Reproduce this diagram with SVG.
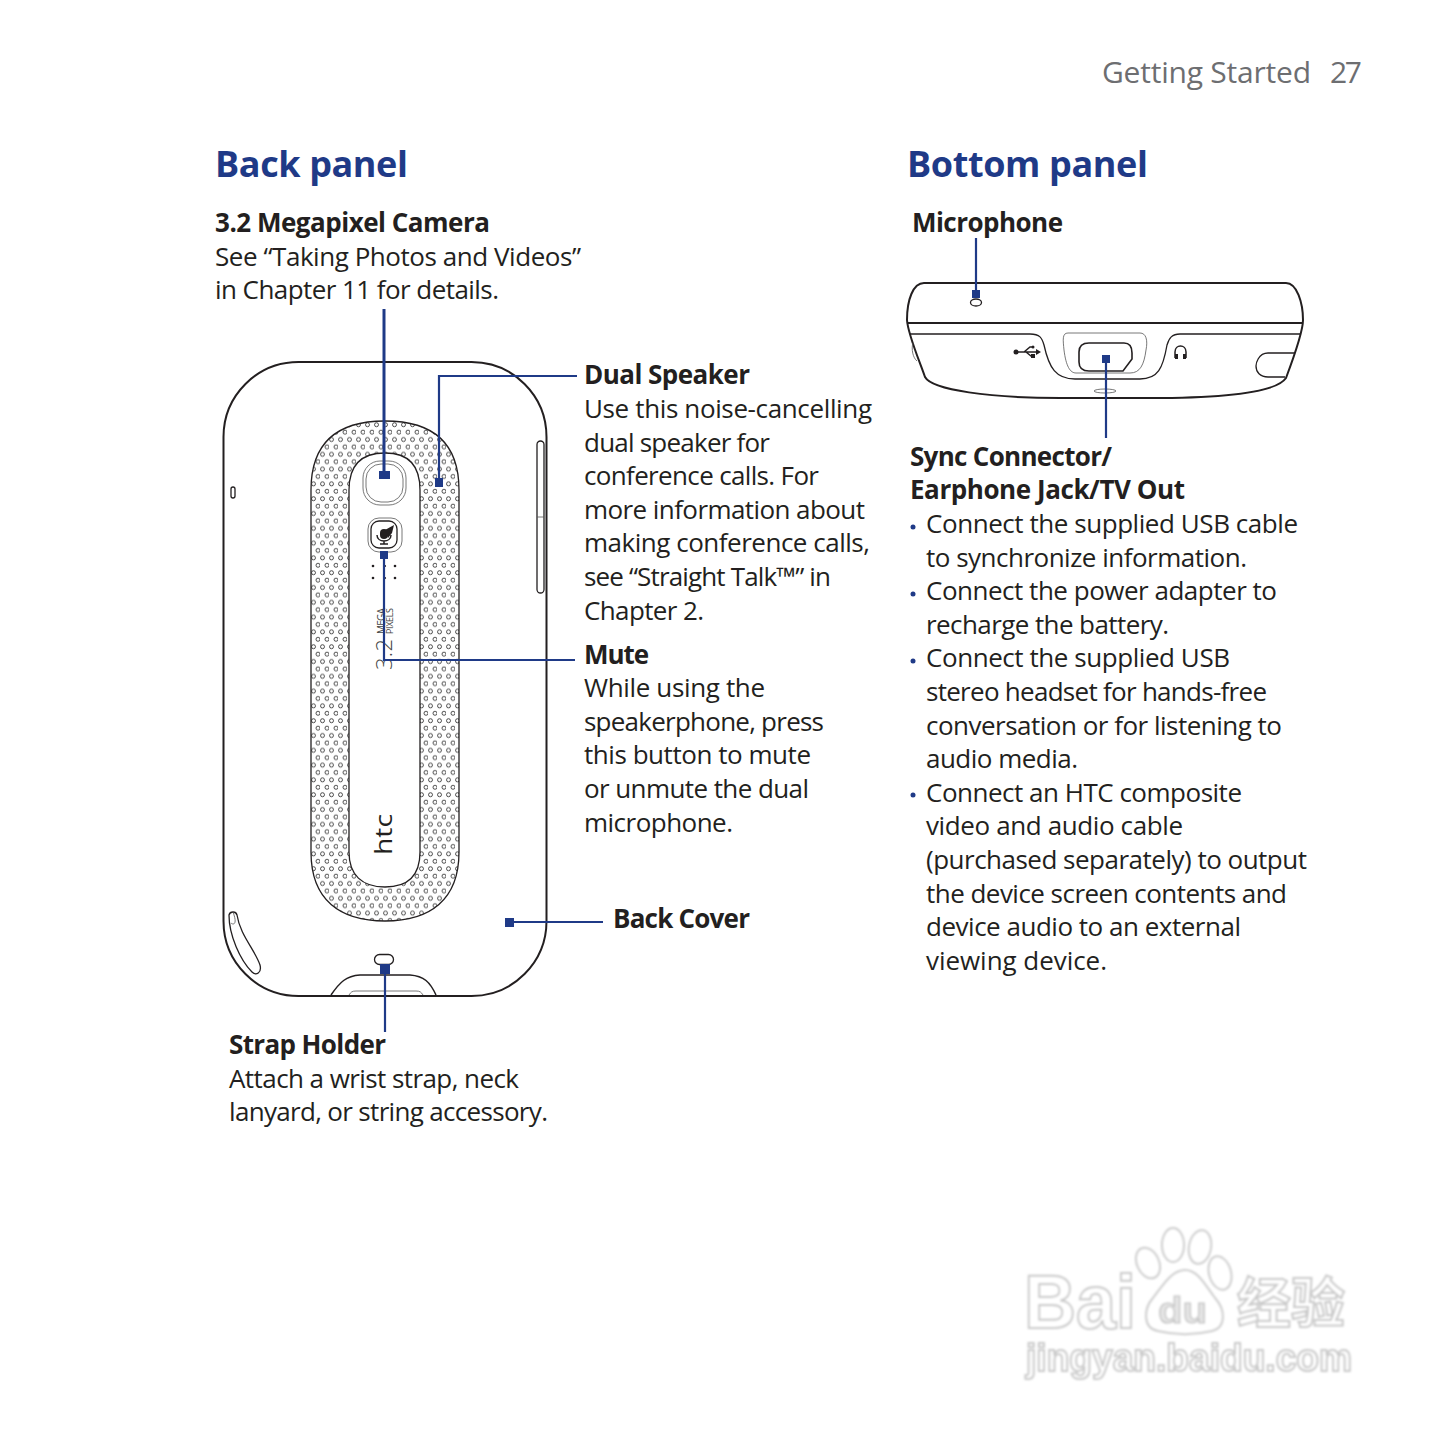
<svg xmlns="http://www.w3.org/2000/svg" width="1440" height="1440" viewBox="0 0 1440 1440">
<style>
text{font-family:"Open Sans","Noto Sans",sans-serif;fill:#231f20}
.b{font-size:26px;font-weight:700}
.t{font-size:26px}
.h{font-size:36px;font-weight:700;fill:#1f3a87}
.o{fill:none;stroke:#231f20;stroke-width:2}
.m{fill:none;stroke:#231f20;stroke-width:1.3}
.f{fill:none;stroke:#555;stroke-width:.8}
.c{fill:none;stroke:#1f3a87;stroke-width:2.200}
.s{fill:#1f3a87;stroke:none}
.w{fill:#fff;stroke:#c9c9c9;stroke-width:2;font-family:"Liberation Sans",sans-serif;font-weight:700}
.p{fill:#fff;stroke:#ccc;stroke-width:2}
</style>
<defs>
<pattern id="dots" x="311" y="421" width="9" height="14.800" patternUnits="userSpaceOnUse">
<circle cx="2.500" cy="3.700" r="2" fill="none" stroke="#222" stroke-width=".8"/>
<circle cx="7" cy="11.100" r="2" fill="none" stroke="#222" stroke-width=".8"/>
</pattern>
<filter id="blur"><feGaussianBlur stdDeviation="1"/></filter>
</defs>
<rect width="1440" height="1440" fill="#fff"/>

<g id="header">
<text x="1102" y="83" textLength="209" style="font-size:30px;fill:#6d6e71">Getting Started</text>
<text x="1330" y="83" textLength="32" style="font-size:30px;fill:#6d6e71">27</text>
<text class="h" x="215" y="177" textLength="193">Back panel</text>
<text class="h" x="907" y="177" textLength="241">Bottom panel</text>
</g>

<g id="back-phone">
<rect class="o" x="223.500" y="362" width="323" height="634" rx="75" ry="75"/>
<path fill="url(#dots)" fill-rule="evenodd" d="M311 490C311 440 340 421 385 421C430 421 459 440 459 490V852C459 900 430 921 385 921C340 921 311 900 311 852ZM349 490V852C349 875 362 887 385 887C408 887 420 875 420 852V490C420 465 408 453 385 453C362 453 349 465 349 490Z"/>
<path class="m" d="M311 490C311 440 340 421 385 421C430 421 459 440 459 490V852C459 900 430 921 385 921C340 921 311 900 311 852Z"/>
<path class="m" d="M349 490V852C349 875 362 887 385 887C408 887 420 875 420 852V490C420 465 408 453 385 453C362 453 349 465 349 490Z"/>
<rect class="f" x="363" y="461" width="43" height="44" rx="17"/>
<rect class="f" x="366" y="464" width="37" height="38" rx="15"/>
<rect class="f" x="368" y="518" width="34" height="34" rx="11"/>
<rect class="m" x="371" y="521" width="26" height="27" rx="8"/>
<rect x="380" y="529" width="8" height="10" rx="4" fill="#231f20"/>
<path d="M377 535C377 543 391 543 391 535M384 541V544M380 544H388" fill="none" stroke="#231f20" stroke-width="1.500"/>
<path d="M385 530L394 525L392 533L388 538Z" fill="#231f20"/>
<g fill="#231f20"><circle cx="373" cy="566" r="1.300"/><circle cx="385" cy="566" r="1.100"/><circle cx="395" cy="566" r="1.300"/><circle cx="373" cy="578" r="1.300"/><circle cx="385" cy="578" r="1.100"/><circle cx="395" cy="578" r="1.300"/></g>
<text transform="translate(385,634) rotate(-90)" style="font-size:10px;fill:#444" textLength="26">MEGA</text>
<text transform="translate(393,634) rotate(-90)" style="font-size:9px;fill:#444" textLength="26">PIXELS</text>
<text transform="translate(392,670) rotate(-90)" style="font-size:22px;font-weight:300;fill:#444" textLength="31">3.2</text>
<text transform="translate(392,855) rotate(-90)" style="font-size:23px;fill:#231f20" textLength="41" lengthAdjust="spacingAndGlyphs">htc</text>
<rect class="m" x="537" y="441" width="7" height="152" rx="3.500"/>
<path class="f" d="M537 517h7"/>
<rect class="m" x="231" y="487" width="4" height="11" rx="2"/>
<path class="m" d="M229 915C230 911 236 911 237 915C240 935 255 950 260 965C262 973 256 976 252 972C240 960 229 935 229 915Z"/>
<path class="f" d="M233 912C238 925 233 925 231 923"/>
<rect class="m" x="374.500" y="954.500" width="19" height="10" rx="5"/>
<path class="o" style="stroke-width:1.500" d="M331 995C340 982 346 976 360 975H410C424 976 430 982 436 995"/>
<path class="f" d="M349 995C351 992 352 991 356 991H416C420 991 421 992 423 995"/>
</g>

<g id="bottom-phone">
<path class="o" d="M924 283H1286C1297 283 1303 303 1303 320C1303 332 1292 362 1286 378C1278 390 1240 398 1150 398H1060C990 398 932 390 925 377C920 362 908 335 907 320C907 300 913 283 924 283Z"/>
<path class="o" d="M907 323H1303"/>
<path class="m" d="M910 334H1030C1040 334 1042 338 1044 345C1049 368 1056 379 1075 379H1140C1158 379 1163 368 1167 345C1169 338 1172 334 1180 334H1300"/>
<path class="f" d="M1068 333H1140C1146 333 1148 340 1146 350C1144 365 1140 373 1130 373H1076C1070 373 1066 366 1064 350C1063 340 1062 333 1068 333Z"/>
<path class="o" style="stroke-width:1.600" d="M1089 343H1124C1130 343 1132 348 1132 353V359L1123 371H1089C1082 371 1079 367 1079 362V352C1079 346 1083 343 1089 343Z"/>
<ellipse class="m" cx="976" cy="302.500" rx="5.500" ry="3.500"/>
<ellipse class="f" cx="1105" cy="391" rx="11" ry="2"/>
<path class="m" d="M1017 352H1037M1024 352L1030 347H1033M1026 352L1031 356H1034" style="stroke-width:1.500"/>
<circle cx="1016" cy="352" r="2.500" fill="#231f20"/><path d="M1041 352l-5-3v6z" fill="#231f20"/><rect x="1031" y="354" width="4" height="4" fill="#231f20"/><circle cx="1033" cy="347" r="1.500" fill="#231f20"/>
<path class="o" d="M1175 358V352C1175 344 1186 344 1186 352V358" style="stroke-width:1.500"/>
<rect x="1175" y="354" width="3" height="5" fill="#231f20"/><rect x="1183" y="354" width="3" height="5" fill="#231f20"/>
<path class="m" d="M1295 353H1268C1258 353 1256 364 1256 366C1256 372 1260 377 1268 377H1285"/>
<path class="f" d="M913 343C911 349 913 358 917 361"/>
</g>

<g id="connectors">
<path class="c" style="stroke-width:3" d="M384 309V475"/>
<rect class="s" x="379" y="471" width="11" height="8"/>
<path class="c" d="M577 376H439V482"/>
<rect class="s" x="435" y="478" width="8" height="9"/>
<path class="c" d="M575 660H384V554"/>
<rect class="s" x="380" y="551" width="8" height="8"/>
<path class="c" d="M603 922H510"/>
<rect class="s" x="505" y="918" width="9" height="9"/>
<path class="c" d="M385 1032V968"/>
<rect class="s" x="380" y="964" width="10" height="10"/>
<path class="c" d="M976 238V294"/>
<rect class="s" x="972" y="290" width="8" height="8"/>
<path class="c" d="M1106 438V358"/>
<rect class="s" x="1102" y="355" width="8" height="8"/>
</g>

<g id="back-camera"><text class="b" x="215" y="232" textLength="275">3.2 Megapixel Camera</text>
<text class="t" x="215" y="266" textLength="366">See “Taking Photos and Videos”</text>
<text class="t" x="215" y="299" textLength="284">in Chapter 11 for details.</text></g>
<g id="dual-speaker"><text class="b" x="584" y="384" textLength="166">Dual Speaker</text>
<text class="t" x="584" y="418" textLength="288">Use this noise-cancelling</text>
<text class="t" x="584" y="452" textLength="186">dual speaker for</text>
<text class="t" x="584" y="485" textLength="235">conference calls. For</text>
<text class="t" x="584" y="519" textLength="281">more information about</text>
<text class="t" x="584" y="552" textLength="286">making conference calls,</text>
<text class="t" x="584" y="586" textLength="247">see “Straight Talk™” in</text>
<text class="t" x="584" y="620" textLength="120">Chapter 2.</text></g>
<g id="mute"><text class="b" x="584" y="664" textLength="65">Mute</text>
<text class="t" x="584" y="697" textLength="181">While using the</text>
<text class="t" x="584" y="731" textLength="240">speakerphone, press</text>
<text class="t" x="584" y="764" textLength="227">this button to mute</text>
<text class="t" x="584" y="798" textLength="225">or unmute the dual</text>
<text class="t" x="584" y="832" textLength="149">microphone.</text></g>
<g id="back-cover"><text class="b" x="613" y="928" textLength="137">Back Cover</text></g>
<g id="strap-holder"><text class="b" x="229" y="1054" textLength="157">Strap Holder</text>
<text class="t" x="229" y="1088" textLength="290">Attach a wrist strap, neck</text>
<text class="t" x="229" y="1121" textLength="319">lanyard, or string accessory.</text></g>
<g id="microphone"><text class="b" x="912" y="232" textLength="151">Microphone</text></g>
<g id="sync"><text class="b" x="910" y="466" textLength="202">Sync Connector/</text>
<text class="b" x="910" y="499" textLength="275">Earphone Jack/TV Out</text>
<g class="s"><circle cx="913" cy="527" r="2.500"/><circle cx="913" cy="594" r="2.500"/><circle cx="913" cy="661" r="2.500"/><circle cx="913" cy="795" r="2.500"/></g>
<text class="t" x="926" y="533" textLength="372">Connect the supplied USB cable</text>
<text class="t" x="926" y="567" textLength="321">to synchronize information.</text>
<text class="t" x="926" y="600" textLength="351">Connect the power adapter to</text>
<text class="t" x="926" y="634" textLength="243">recharge the battery.</text>
<text class="t" x="926" y="667" textLength="304">Connect the supplied USB</text>
<text class="t" x="926" y="701" textLength="341">stereo headset for hands-free</text>
<text class="t" x="926" y="735" textLength="356">conversation or for listening to</text>
<text class="t" x="926" y="768" textLength="152">audio media.</text>
<text class="t" x="926" y="802" textLength="316">Connect an HTC composite</text>
<text class="t" x="926" y="835" textLength="257">video and audio cable</text>
<text class="t" x="926" y="869" textLength="381">(purchased separately) to output</text>
<text class="t" x="926" y="903" textLength="361">the device screen contents and</text>
<text class="t" x="926" y="936" textLength="315">device audio to an external</text>
<text class="t" x="926" y="970" textLength="181">viewing device.</text></g>

<g id="watermark" filter="url(#blur)">
<text class="w" x="1024" y="1328" style="font-size:76px" textLength="112" lengthAdjust="spacingAndGlyphs">Bai</text>
<ellipse class="p" cx="1148" cy="1263" rx="11" ry="16" transform="rotate(-25 1148 1263)"/>
<ellipse class="p" cx="1173" cy="1245" rx="11" ry="17"/>
<ellipse class="p" cx="1200" cy="1247" rx="11" ry="17" transform="rotate(10 1200 1247)"/>
<ellipse class="p" cx="1220" cy="1273" rx="11" ry="17" transform="rotate(-15 1220 1273)"/>
<path class="p" d="M1158 1331C1142 1328 1144 1308 1153 1298C1163 1285 1172 1270 1185 1270C1198 1270 1205 1285 1215 1298C1226 1310 1226 1328 1212 1331C1195 1335 1175 1335 1158 1331Z"/>
<text x="1158" y="1323" style="font-size:36px;font-family:'Liberation Sans',sans-serif;font-weight:700;fill:#e4e4e4;stroke:#bbb;stroke-width:1" textLength="49" lengthAdjust="spacingAndGlyphs">du</text>
<text class="w" x="1237" y="1323" style="font-size:54px;font-family:'Noto Sans CJK SC',sans-serif" textLength="108" lengthAdjust="spacingAndGlyphs">经验</text>
<text class="w" x="1026" y="1371" style="font-size:38px" textLength="326" lengthAdjust="spacingAndGlyphs">jingyan.baidu.com</text>
</g>
</svg>
